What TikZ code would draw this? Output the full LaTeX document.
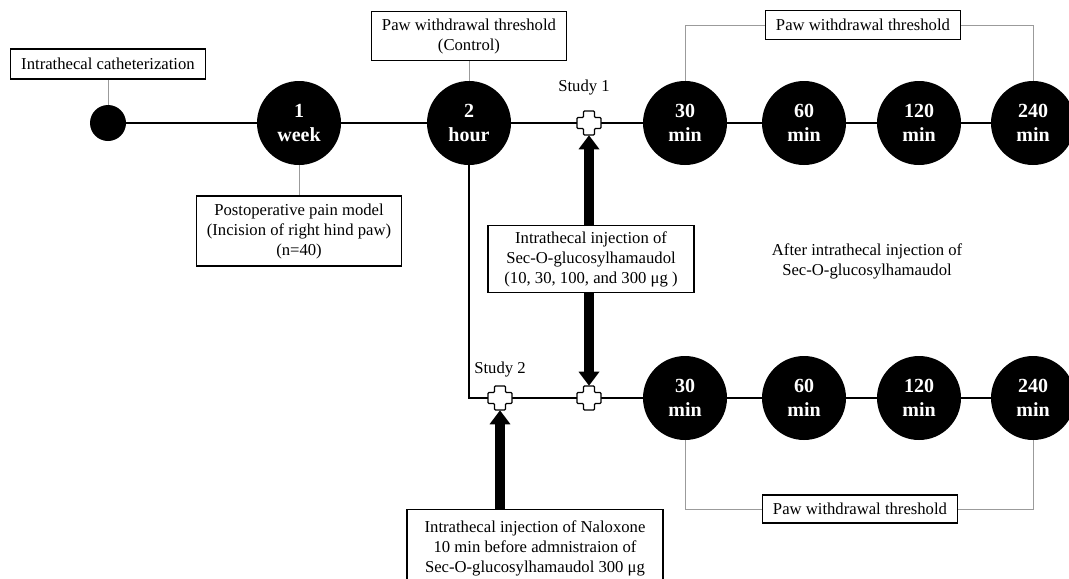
\documentclass[tikz,border=0pt]{standalone}
\usepackage{fontspec}
\setmainfont{Liberation Serif}
\usetikzlibrary{arrows.meta,backgrounds}

\begin{document}
\begin{tikzpicture}[x=0.75pt,y=0.75pt,yscale=-1,xscale=1,
  every node/.style={font=\fontsize{12.5}{15}\selectfont},
  infobox/.style={draw, line width=0.9pt, fill=white, align=center, inner sep=0pt},
  timept/.style={circle, fill=black, minimum size=63pt, inner sep=0pt, text=white, align=center, font=\fontsize{15}{18}\selectfont\bfseries},
  junction/.style={minimum size=18pt, inner sep=0pt},
  tie/.style={draw={rgb,255:red,155;green,155;blue,155}, line width=0.75pt},
  track/.style={line width=1.5pt},
  bigarrow/.style={line width=8pt, -{Triangle[width=15pt,length=10.5pt]}},
  plusmark/.pic={\draw[fill=white, line width=0.9pt, rounded corners=0.8pt] (-5.5,-12) -- (5.5,-12) -- (5.5,-5.5) -- (12,-5.5) -- (12,5.5) -- (5.5,5.5) -- (5.5,12) -- (-5.5,12) -- (-5.5,5.5) -- (-12,5.5) -- (-12,-5.5) -- (-5.5,-5.5) -- cycle;}]
\clip (0,0) rectangle (1069,578);

%Time points: study 1
\node [circle, fill=black, minimum size=27pt, inner sep=0pt] (dot) at (108,123) {};
\node [timept] (w1) at (299,123) {1\\week};
\node [timept] (h2) at (469,123) {2\\hour};
\node [junction] (s1) at (589,123) {};
\node [timept] (t30) at (685,123) {30\\min};
\node [timept] (t60) at (804,123) {60\\min};
\node [timept] (t120) at (919,123) {120\\min};
\node [timept] (t240) at (1033,123) {240\\min};

%Time points: study 2
\node [junction] (s2) at (500,398) {};
\node [junction] (s3) at (589,398) {};
\node [timept] (b30) at (685,398) {30\\min};
\node [timept] (b60) at (804,398) {60\\min};
\node [timept] (b120) at (919,398) {120\\min};
\node [timept] (b240) at (1033,398) {240\\min};

% Text Node
\node [infobox, minimum width=146pt, minimum height=22.5pt] (cath) at (108,64) {Intrathecal catheterization};
% Text Node
\node [infobox, minimum width=146pt, minimum height=37pt] (ctrl) at (469,36) {Paw withdrawal threshold\\(Control)};
% Text Node
\node [infobox, minimum width=154pt, minimum height=52.5pt] (postop) at (299,231) {Postoperative pain model\\(Incision of right hind paw)\\(n=40)};
% Text Node
\node [infobox, minimum width=146pt, minimum height=22pt] (pwt1) at (863,25) {Paw withdrawal threshold};
% Text Node
\node [infobox, minimum width=146pt, minimum height=21pt] (pwt2) at (860,509) {Paw withdrawal threshold};
% Text Node
\node [infobox, anchor=north, minimum width=192pt, inner ysep=8pt] (nalox) at (535,509) {Intrathecal injection of Naloxone\\10 min before admnistraion of\\Sec-O-glucosylhamaudol 300 μg};
% Text Node
\node (st1) at (584,88) {Study 1};
% Text Node
\node (st2) at (500,370) {Study 2};
% Text Node
\node [align=center] (after) at (867,261) {After intrathecal injection of\\Sec-O-glucosylhamaudol};

\begin{scope}[on background layer]
\draw [track] (dot) -- (w1) -- (h2) -- (s1) -- (t30) -- (t60) -- (t120) -- (t240);
\draw [track] (h2.center) |- (s2) -- (s3) -- (b30) -- (b60) -- (b120) -- (b240);
\draw [tie] (cath) -- (dot);
\draw [tie] (ctrl) -- (h2);
\draw [tie] (w1) -- (postop);
\draw [tie] (t30.north) |- (pwt1.west);
\draw [tie] (pwt1.east) -| (t240.north);
\draw [tie] (b30.south) |- (pwt2.west);
\draw [tie] (pwt2.east) -| (b240.south);
\end{scope}

\foreach \j in {s1,s2,s3} \pic at (\j) {plusmark};

%Injections
\draw [bigarrow, {Triangle[width=15pt,length=10.5pt]}-{Triangle[width=15pt,length=10.5pt]}] (s1.south) -- (s3.north);
\draw [bigarrow] (nalox.north -| s2) -- (s2.south);

% Text Node
\node [infobox, minimum width=154.5pt, minimum height=50pt] (inj) at (591,259) {Intrathecal injection of\\Sec-O-glucosylhamaudol\\(10, 30, 100, and 300 μg )};

\end{tikzpicture}
\end{document}
